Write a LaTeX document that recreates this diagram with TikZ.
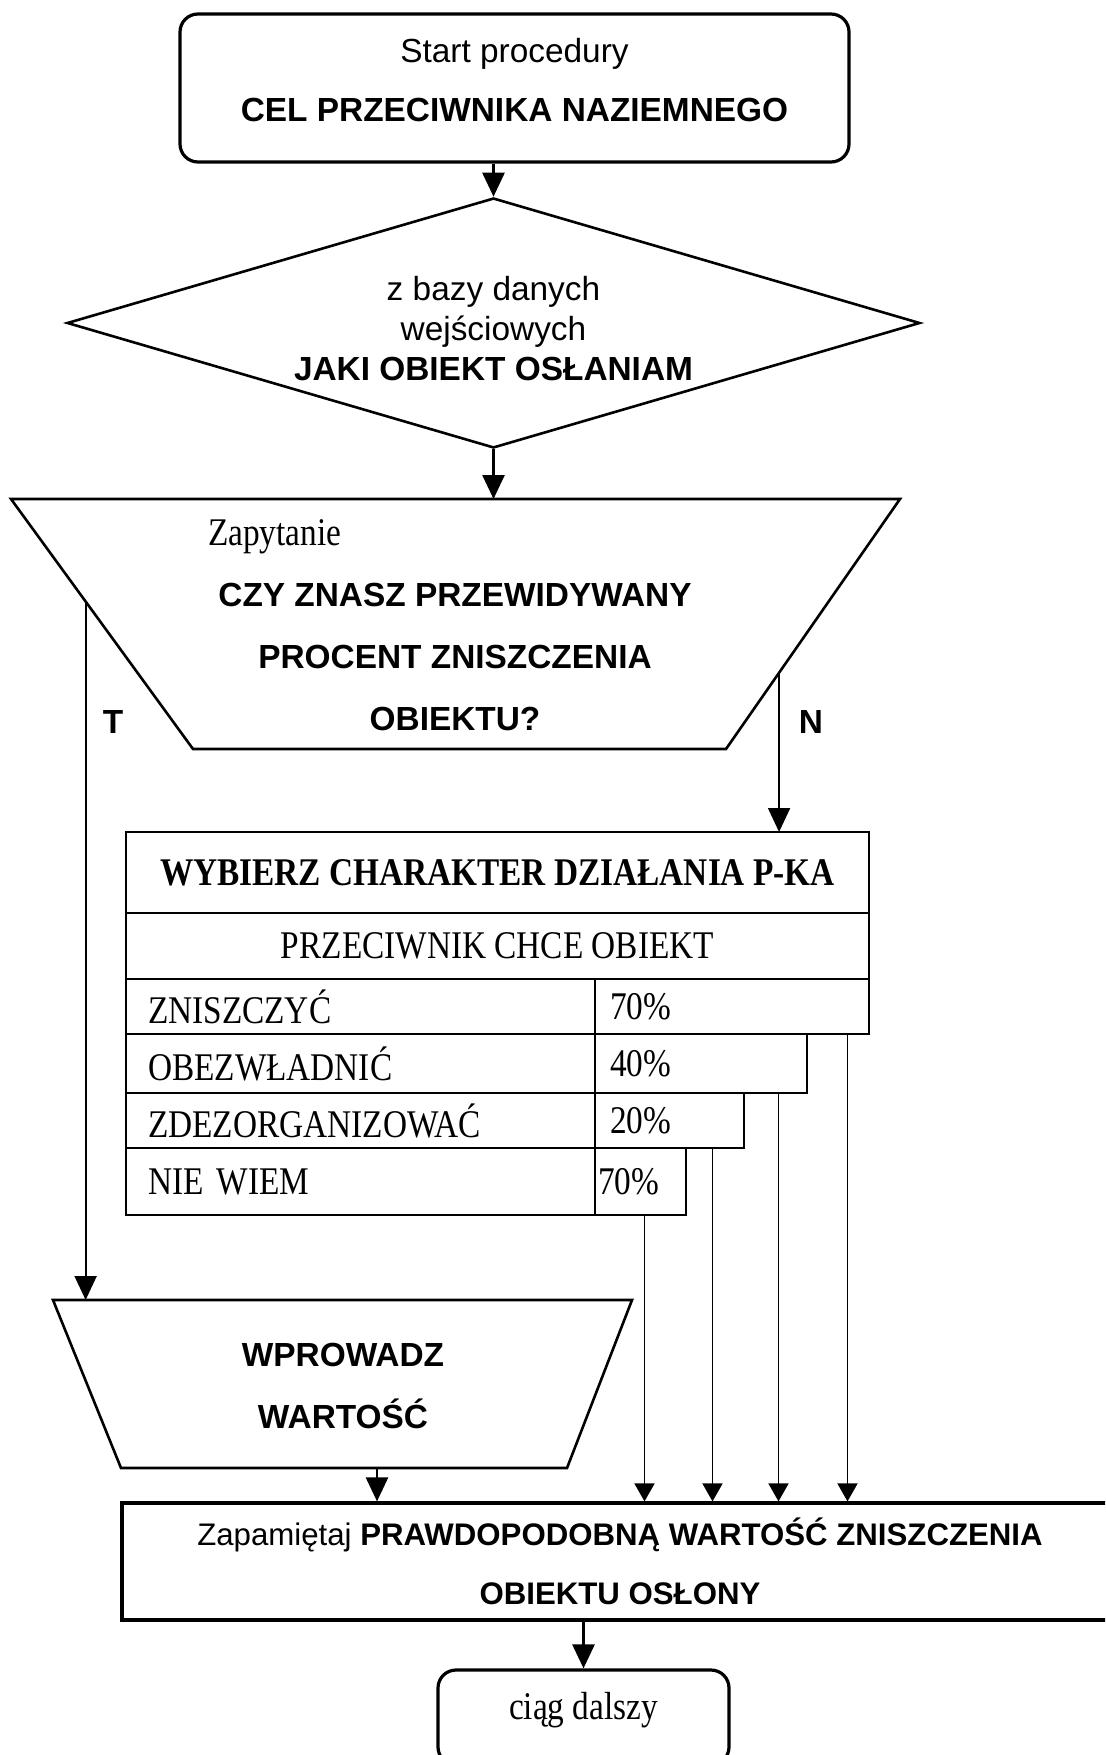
\documentclass[tikz,border=0pt]{standalone}
\usepackage{fontspec}
\setmainfont{Liberation Serif}
\setsansfont{Liberation Sans}
\newfontfamily\tabfont[FakeStretch=0.85]{Liberation Serif}
\usetikzlibrary{arrows.meta,calc,shapes.geometric}
\newcommand\sansfnt{\sffamily\fontsize{16.7}{20}\selectfont}
\newcommand\storefnt{\sffamily\fontsize{15.6}{20}\selectfont}
\newcommand\serifnt{\tabfont\fontsize{19.6}{24}\selectfont}

\begin{document}
\begin{tikzpicture}[x=0.5pt,y=-0.5pt,>={Triangle[length=12pt,width=11pt]},
  box/.style={draw,line width=1.6pt,inner sep=0pt},
  cell/.style={draw,line width=1.4pt,inner sep=0pt,outer sep=0pt,font=\serifnt},
  flow/.style={->,line width=1.3pt},
  branch/.style={->,line width=1pt},
  feed/.style={-{Triangle[length=9pt,width=10pt]},line width=0.8pt}]
\useasboundingbox (0,0) rectangle (1105,1755);
\clip (0,0) rectangle (1105,1755);
\node[box,rounded corners=9pt,minimum width=334.5pt,minimum height=74pt,text depth=8pt,align=center,font=\sansfnt] (start) at (514.5,88)
  {Start procedury\\[9.5pt]\textbf{CEL PRZECIWNIKA NAZIEMNEGO}};
\node[diamond,draw,line width=1.3pt,aspect=3.4,inner sep=0pt,minimum width=426.5pt,minimum height=125pt,text height=58pt,align=center,font=\sansfnt] (dia) at (493.5,323)
  {z bazy danych\\wejściowych\\\textbf{JAKI OBIEKT OSŁANIAM}};
\draw[flow] (start.south -| dia.north) -- (dia.north);
\coordinate (zTL) at (11,499);
\coordinate (zTR) at (900,499);
\coordinate (zBR) at (726,749);
\coordinate (zBL) at (193,749);
\draw[line width=1.3pt] (zTL) -- (zTR) -- (zBR) -- (zBL) -- cycle;
\node[font=\serifnt,anchor=west] (zlab) at (201,537) {Zapytanie};
\node[font=\sansfnt\bfseries,align=center] (zq) at (455,657)
  {CZY ZNASZ PRZEWIDYWANY\\[11pt]PROCENT ZNISZCZENIA\\[11pt]OBIEKTU?};
\draw[flow] (dia.south) -- (dia.south |- zTL);
\node[font=\sansfnt\bfseries] (yes) at (113,722) {T};
\node[font=\sansfnt\bfseries] (no) at (811,722) {N};
\node[cell,font=\serifnt\bfseries,minimum width=371.5pt,minimum height=40.5pt] (head) at (497.5,872.5) {WYBIERZ CHARAKTER DZIAŁANIA P-KA};
\node[cell,minimum width=371.5pt,minimum height=33pt,anchor=north] (sub) at (head.south) {PRZECIWNIK CHCE OBIEKT};
\node[cell,anchor=north west,text width=212.5pt,inner xsep=11pt,align=left,minimum height=27.5pt] (opt1) at (sub.south west) {ZNISZCZYĆ};
\node[cell,anchor=north west,text width=122pt,inner xsep=7.5pt,align=left,minimum height=27.5pt] (val1) at (opt1.north east) {70\%};
\node[cell,anchor=north west,text width=212.5pt,inner xsep=11pt,align=left,minimum height=29.5pt] (opt2) at (opt1.south west) {OBEZWŁADNIĆ};
\node[cell,anchor=north west,text width=91pt,inner xsep=7.5pt,align=left,minimum height=29.5pt] (val2) at (opt2.north east) {40\%};
\node[cell,anchor=north west,text width=212.5pt,inner xsep=11pt,align=left,minimum height=27.5pt] (opt3) at (opt2.south west) {ZDEZORGANIZOWAĆ};
\node[cell,anchor=north west,text width=59.5pt,inner xsep=7.5pt,align=left,minimum height=27.5pt] (val3) at (opt3.north east) {20\%};
\node[cell,anchor=north west,text width=212.5pt,inner xsep=11pt,align=left,minimum height=33.5pt] (opt4) at (opt3.south west) {NIE WIEM};
\node[cell,anchor=north west,text width=42.5pt,inner xsep=1.5pt,align=left,minimum height=33.5pt] (val4) at (opt4.north east) {70\%};
\coordinate (tT) at ($(zTL)!0.41!(zBL)$);
\coordinate (nT) at ($(zTR)!0.695!(zBR)$);
\draw[branch] (nT) -- (nT |- head.north);
\coordinate (wTL) at (53,1300);
\coordinate (wTR) at (632,1300);
\coordinate (wBR) at (567,1468);
\coordinate (wBL) at (121,1468);
\draw[line width=1.3pt] (wTL) -- (wTR) -- (wBR) -- (wBL) -- cycle;
\node[font=\sansfnt\bfseries,align=center] (wpr) at (343,1386) {WPROWADZ\\[11pt]WARTOŚĆ};
\draw[branch] (tT) -- (tT |- wTL);
\node[box,minimum width=498pt,minimum height=58.5pt,align=center,font=\storefnt] (store) at (620,1561.5)
  {Zapamiętaj \textbf{PRAWDOPODOBNĄ WARTOŚĆ ZNISZCZENIA}\\[9.5pt]\textbf{OBIEKTU OSŁONY}};
\coordinate (wB) at (377,1468);
\draw[flow] (wB) -- (wB |- store.north);
\coordinate (f1) at ([xshift=-10.75pt]val1.south east);
\coordinate (f2) at ([xshift=-14.25pt]val2.south east);
\coordinate (f3) at ([xshift=-15.75pt]val3.south east);
\coordinate (f4) at ([xshift=-20.75pt]val4.south east);
\draw[feed] (f1) -- (f1 |- store.north);
\draw[feed] (f2) -- (f2 |- store.north);
\draw[feed] (f3) -- (f3 |- store.north);
\draw[feed] (f4) -- (f4 |- store.north);
\node[box,rounded corners=9pt,minimum width=145.5pt,minimum height=47.5pt,text depth=12pt,font=\serifnt] (cont) at (583.5,1717.5) {ciąg dalszy};
\draw[flow] (store.south -| cont.north) -- (cont.north);
\end{tikzpicture}
\end{document}
